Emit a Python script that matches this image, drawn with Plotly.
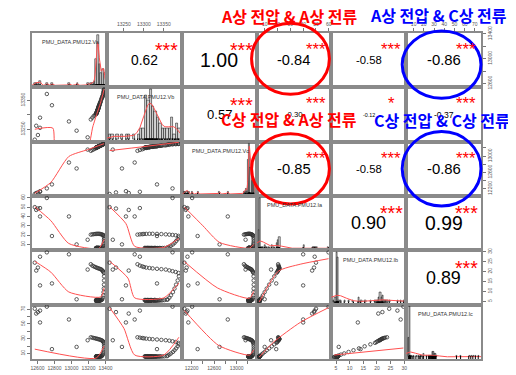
import numpy as np
import plotly.graph_objects as go
from plotly.subplots import make_subplots

var_labels = ["PMU_DATA.PMU12.Va", "PMU_DATA.PMU12.Vb", "PMU_DATA.PMU12.Vc",
              "PMU_DATA.PMU12.Ia", "PMU_DATA.PMU12.Ib", "PMU_DATA.PMU12.Ic"]

# ---- observations (sparse fault points, arc, recovery, steady cluster) ----
Va = [12568, 12585, 12605, 12630, 12710, 12630, 12770, 12970, 13060, 13190,
      13227, 13245, 13262, 13278, 13292, 13305, 13318, 13330, 13342, 13353, 13362, 13370, 13376, 13381,
      13383, 13383, 13382, 13380, 13377, 13373, 13368, 13362,
      13356, 13349, 13343, 13338, 13334, 13331, 13328, 13326, 13324, 13322, 13321, 13319, 13318, 13317,
      13315, 13314, 13313, 13312, 13311, 13310, 13309, 13308, 13307, 13306, 13305, 13304, 13303, 13302,
      13301, 13300, 13299, 13298, 13297, 13296, 13295, 13294, 13293, 13292, 13290, 13288]
Vb = [13214, 13262, 13230, 13290, 13372, 13255, 13333, 13277, 13245, 13222,
      13284, 13290, 13296, 13300, 13306, 13314, 13322, 13333, 13344, 13355, 13364, 13372, 13380, 13387,
      13388, 13385, 13381, 13377, 13373, 13368, 13364, 13360,
      13358, 13352, 13347, 13343, 13340, 13338, 13335, 13333, 13331, 13330, 13329, 13327, 13326, 13325,
      13323, 13322, 13322, 13320, 13319, 13318, 13318, 13317, 13316, 13315, 13314, 13314, 13313, 13312,
      13311, 13310, 13310, 13309, 13308, 13307, 13306, 13306, 13305, 13304, 13303, 13302]
Vc = [12071, 12095, 12110, 12125, 12208, 12140, 12306, 12843, 12697, 13160,
      13130, 13150, 13168, 13185, 13200, 13214, 13228, 13242, 13255, 13266, 13276, 13285, 13292, 13298,
      13302, 13304, 13305, 13303, 13300, 13296, 13292, 13287,
      13272, 13266, 13261, 13256, 13252, 13250, 13247, 13245, 13243, 13241, 13240, 13238, 13237, 13236,
      13234, 13233, 13232, 13231, 13230, 13229, 13228, 13227, 13226, 13225, 13224, 13223, 13222, 13221,
      13220, 13219, 13218, 13217, 13216, 13215, 13214, 13213, 13212, 13211, 13209, 13207]
Ia = [50.0, 47.0, 48.5, 49.0, 59.8, 40.0, 19.0, 40.0, 10.0, 15.0,
      20.5, 20.8, 21.0, 21.2, 21.3, 21.4, 21.4, 21.3, 21.1, 20.8, 20.5, 20.2, 19.8, 19.2,
      17.5, 15.5, 13.5, 11.6, 10.0, 8.6, 7.5, 6.8,
      6.4, 6.2, 6.1, 6.0, 6.2, 5.9, 6.1, 6.0, 5.9, 6.1, 6.0, 6.2, 5.9, 6.0,
      6.1, 5.8, 6.0, 6.1, 5.9, 6.0, 6.2, 5.9, 6.0, 6.1, 5.8, 6.0, 5.9, 6.1,
      6.0, 6.2, 5.9, 6.0, 6.1, 5.8, 6.0, 6.1, 5.9, 6.0, 6.2, 6.1]
Ib = [24.5, 20.5, 22.0, 27.5, 29.7, 13.0, 14.0, 28.7, 6.0, 21.0,
      23.7, 23.0, 22.6, 22.3, 22.0, 21.8, 21.6, 21.4, 21.2, 21.0, 20.6, 20.2, 19.8, 19.3,
      17.6, 15.5, 13.4, 11.4, 9.6, 8.0, 6.8, 5.9,
      5.8, 5.6, 5.5, 5.4, 5.7, 5.3, 5.5, 5.4, 5.2, 5.6, 5.4, 5.7, 5.3, 5.4,
      5.6, 4.8, 5.4, 5.5, 5.3, 5.4, 5.7, 5.3, 5.4, 5.6, 4.6, 5.4, 5.2, 5.5,
      5.4, 5.7, 5.3, 5.4, 5.5, 4.3, 5.4, 5.6, 5.2, 5.4, 5.7, 5.5]
Ic = [70.5, 64.0, 66.0, 68.0, 73.3, 52.0, 16.0, 56.0, 19.0, 28.0,
      32.0, 31.5, 31.0, 30.6, 30.2, 29.8, 29.4, 29.0, 28.5, 28.0, 27.4, 26.6, 25.6, 24.5,
      22.5, 19.8, 17.0, 14.5, 12.2, 10.2, 8.6, 7.4,
      6.5, 6.3, 6.1, 6.0, 6.4, 5.8, 6.2, 6.0, 5.9, 6.1, 6.0, 6.3, 5.8, 6.0,
      6.2, 5.6, 6.0, 6.1, 5.9, 6.0, 6.3, 5.8, 6.0, 6.1, 5.5, 6.0, 5.8, 6.2,
      6.0, 6.4, 5.8, 6.0, 6.2, 5.4, 6.0, 6.1, 5.8, 6.0, 6.3, 6.1]
data = [Va, Vb, Vc, Ia, Ib, Ic]

# ---- correlations shown in the upper panels ----
cor_row = [0, 0, 0, 0, 0, 1, 1, 1, 1, 2, 2, 2, 3, 3, 4]
cor_col = [1, 2, 3, 4, 5, 2, 3, 4, 5, 3, 4, 5, 4, 5, 5]
cor_txt = ["0.62", "1.00", "-0.84", "-0.58", "-0.86", "0.57", "-0.30", "-0.12", "-0.37",
           "-0.85", "-0.58", "-0.86", "0.90", "0.99", "0.89"]
cor_sig = ["***", "***", "***", "***", "***", "***", "***", "*", "***",
           "***", "***", "***", "***", "***", "***"]

# ---- smoother lines ----
sm_Vb_Va_x = [12568, 12780, 12815, 13180, 13250, 13300, 13340, 13383]
sm_Vb_Va_y = [13250, 13254, 13180, 13180, 13258, 13305, 13340, 13388]
sm_Vc_Va_x = [12568, 12757, 12968, 13192, 13383]
sm_Vc_Va_y = [12090, 12355, 12990, 13160, 13305]
sm_Ia_Va_x = [12568, 12757, 12968, 13321, 13383]
sm_Ia_Va_y = [50.4, 35.5, 11.0, 5.7, 15.3]
sm_Ib_Va_x = [12568, 12757, 12968, 13345, 13383]
sm_Ib_Va_y = [25.2, 19.7, 9.7, 7.2, 11.7]
sm_Ic_Va_x = [12568, 13290, 13383]
sm_Ic_Va_y = [16.0, 4.0, 20.0]
sm_Vc_Vb_x = [13214, 13300, 13388]
sm_Vc_Vb_y = [13135, 13233, 13340]
sm_Ia_Vb_x = [13214, 13255, 13277, 13350, 13388]
sm_Ia_Vb_y = [50.4, 32.3, 7.9, 6.8, 16.4]
sm_Ib_Vb_x = [13214, 13260, 13277, 13350, 13388]
sm_Ib_Vb_y = [25.2, 16.7, 6.7, 6.7, 14.2]
sm_Ic_Vb_x = [13214, 13250, 13277, 13350, 13388]
sm_Ic_Vb_y = [72.0, 44.0, 8.0, 8.0, 32.0]
sm_Ia_Vc_x = [12071, 12400, 12700, 13230, 13305]
sm_Ia_Vc_y = [50.0, 30.0, 12.0, 6.0, 10.0]
sm_Ib_Vc_x = [12071, 12661, 13230, 13305]
sm_Ib_Vc_y = [25.0, 11.7, 6.5, 10.0]
sm_Ic_Vc_x = [12071, 12680, 13230, 13305]
sm_Ic_Vc_y = [68.0, 21.0, 8.0, 15.0]
sm_Ib_Ia_x = [5.8, 20.7, 37.7, 59.8]
sm_Ib_Ia_y = [4.7, 20.2, 23.7, 26.5]
sm_Ic_Ia_x = [5.8, 16.8, 37.7, 59.8]
sm_Ic_Ia_y = [5.3, 25.3, 52.0, 72.0]
sm_Ic_Ib_x = [4.3, 29.7]
sm_Ic_Ib_y = [8.0, 17.5]
smooth = {
    (1, 0): (sm_Vb_Va_x, sm_Vb_Va_y), (2, 0): (sm_Vc_Va_x, sm_Vc_Va_y),
    (3, 0): (sm_Ia_Va_x, sm_Ia_Va_y), (4, 0): (sm_Ib_Va_x, sm_Ib_Va_y),
    (5, 0): (sm_Ic_Va_x, sm_Ic_Va_y), (2, 1): (sm_Vc_Vb_x, sm_Vc_Vb_y),
    (3, 1): (sm_Ia_Vb_x, sm_Ia_Vb_y), (4, 1): (sm_Ib_Vb_x, sm_Ib_Vb_y),
    (5, 1): (sm_Ic_Vb_x, sm_Ic_Vb_y), (3, 2): (sm_Ia_Vc_x, sm_Ia_Vc_y),
    (4, 2): (sm_Ib_Vc_x, sm_Ib_Vc_y), (5, 2): (sm_Ic_Vc_x, sm_Ic_Vc_y),
    (4, 3): (sm_Ib_Ia_x, sm_Ib_Ia_y), (5, 3): (sm_Ic_Ia_x, sm_Ic_Ia_y),
    (5, 4): (sm_Ic_Ib_x, sm_Ic_Ib_y),
}

hist_bin = [20, 6, 20, 1, 0.5, 1]

# ---- tick values / labels ----
va_ticks = [12600, 12800, 13000, 13200, 13400]
va_lab_bottom = ["12600", "12800", "13000", "13200", "13400"]
va_lab_right = ["12600", "", "13000", "", "13400"]
vb_ticks = [13250, 13300, 13350]
vb_lab_top = ["13250", "13300", "13350"]
vb_lab_left = ["13250", "", "13350"]
vc_ticks = [12200, 12400, 12600, 12800, 13000, 13200]
vc_lab = ["12200", "", "12600", "", "13000", ""]
ia_ticks = [10, 20, 30, 40, 50, 60]
ia_lab = ["10", "20", "30", "40", "50", "60"]
ib_ticks = [5, 10, 15, 20, 25, 30]
ib_lab = ["5", "10", "15", "20", "25", "30"]
ic_ticks = [10, 20, 30, 40, 50, 60, 70]
ic_lab_top = ["10", "20", "30", "40", "50", "60", "70"]
ic_lab_left = ["10", "", "30", "", "50", "", "70"]

top_ticks = {1: (vb_ticks, vb_lab_top), 3: (ia_ticks, ia_lab), 5: (ic_ticks, ic_lab_top)}
bottom_ticks = {0: (va_ticks, va_lab_bottom), 2: (vc_ticks, vc_lab), 4: (ib_ticks, ib_lab)}
left_ticks = {1: (vb_ticks, vb_lab_left), 3: (ia_ticks, ia_lab), 5: (ic_ticks, ic_lab_left)}
right_ticks = {0: (va_ticks, va_lab_right), 2: (vc_ticks, vc_lab), 4: (ib_ticks, ib_lab)}

# ---- helpers ----
def rng(v):
    a, b = min(v), max(v)
    d = b - a
    return [a - 0.04 * d, b + 0.04 * d]

def kde(v):
    x = np.asarray(v, float)
    n = len(x)
    sd = x.std(ddof=1)
    iqr = np.percentile(x, 75) - np.percentile(x, 25)
    bw = 0.9 * min(sd, iqr / 1.34) * n ** -0.2
    g = np.linspace(x.min() - 3 * bw, x.max() + 3 * bw, 512)
    d = np.exp(-0.5 * ((g[:, None] - x[None, :]) / bw) ** 2).sum(1) / (n * bw * np.sqrt(2 * np.pi))
    return g, d

def em_width(s):
    return sum(0.556 if ch.isdigit() else 0.278 if ch == "." else 0.333 for ch in s)

ranges = [rng(v) for v in data]

fig = make_subplots(rows=6, cols=6, horizontal_spacing=0, vertical_spacing=0)

tickfont = dict(family="Liberation Sans, Arial", size=5, color="#555")
FRAME = "#8a8a8a"
fig.update_xaxes(showgrid=False, zeroline=False, showline=True, mirror=True,
                 linecolor=FRAME, linewidth=1.5, ticks="", showticklabels=False)
fig.update_yaxes(showgrid=False, zeroline=False, showline=True, mirror=True,
                 linecolor=FRAME, linewidth=1.5, ticks="", showticklabels=False)

PT_COLOR = "#333333"
SMOOTH_COLOR = "#ff5050"

for i in range(6):
    for j in range(6):
        r, c = i + 1, j + 1
        fig.update_xaxes(range=ranges[j], row=r, col=c)
        if i == j:
            x = np.asarray(data[i], float)
            size = hist_bin[i]
            start = np.floor(x.min() / size) * size
            edges = np.arange(start, x.max() + size * 1.001, size)
            dens, _ = np.histogram(x, bins=edges, density=True)
            m = dens.max()
            fig.add_trace(go.Histogram(
                x=data[i], xbins=dict(start=float(edges[0]), end=float(edges[-1]), size=size),
                histnorm="probability density", autobinx=False,
                marker=dict(color="#d3d3d3", line=dict(color="black", width=0.5))),
                row=r, col=c)
            gx, gy = kde(data[i])
            fig.add_trace(go.Scatter(x=gx, y=gy, mode="lines",
                                     line=dict(color=SMOOTH_COLOR, width=1)), row=r, col=c)
            fig.add_trace(go.Scatter(x=data[i], y=[-0.02 * m] * len(data[i]), mode="markers",
                                     marker=dict(symbol="line-ns-open", size=3, color="black",
                                                 line=dict(color="black", width=1))),
                          row=r, col=c)
            fig.update_yaxes(range=[-0.04 * m, 1.04 * m], row=r, col=c)
        elif i > j:
            fig.update_yaxes(range=ranges[i], row=r, col=c)
            fig.add_trace(go.Scatter(x=data[j], y=data[i], mode="markers",
                                     marker=dict(symbol="circle-open", size=3.5, color=PT_COLOR,
                                                 line=dict(color=PT_COLOR, width=0.8))),
                          row=r, col=c)
            sx, sy = smooth[(i, j)]
            fig.add_trace(go.Scatter(x=sx, y=sy, mode="lines",
                                     line=dict(color=SMOOTH_COLOR, width=1, shape="spline",
                                               smoothing=0.6)), row=r, col=c)
        else:
            fig.update_yaxes(range=ranges[i], row=r, col=c)
            # empty placeholder trace so the upper panel is drawn
            fig.add_trace(go.Scatter(x=[None], y=[None], mode="markers", hoverinfo="skip"),
                          row=r, col=c)

# outer axes
for j, (tv, tt) in top_ticks.items():
    fig.update_xaxes(row=1, col=j + 1, side="top", ticks="outside", ticklen=3, tickwidth=1,
                     tickcolor="#777", tickvals=tv, ticktext=tt, showticklabels=True,
                     tickfont=tickfont)
for j, (tv, tt) in bottom_ticks.items():
    fig.update_xaxes(row=6, col=j + 1, side="bottom", ticks="outside", ticklen=3, tickwidth=1,
                     tickcolor="#777", tickvals=tv, ticktext=tt, showticklabels=True,
                     tickfont=tickfont)
for i, (tv, tt) in left_ticks.items():
    fig.update_yaxes(row=i + 1, col=1, side="left", ticks="outside", ticklen=3, tickwidth=1,
                     tickcolor="#777", tickvals=tv, ticktext=tt, showticklabels=True,
                     tickfont=tickfont, tickangle=-90)
for i, (tv, tt) in right_ticks.items():
    fig.update_yaxes(row=i + 1, col=6, side="right", ticks="outside", ticklen=3, tickwidth=1,
                     tickcolor="#777", tickvals=tv, ticktext=tt, showticklabels=True,
                     tickfont=tickfont, tickangle=-90)

def ref(i, j):
    k = i * 6 + j + 1
    s = "" if k == 1 else str(k)
    return "x" + s + " domain", "y" + s + " domain"

annotations = []
for i in range(6):
    xr, yr = ref(i, i)
    annotations.append(dict(text=var_labels[i], xref=xr, yref=yr, x=0.52, y=0.83,
                            xanchor="center", yanchor="middle", showarrow=False,
                            font=dict(family="Liberation Sans, Arial", size=5.5, color="#333")))
K = 38.0
for i, j, t, s in zip(cor_row, cor_col, cor_txt, cor_sig):
    xr, yr = ref(i, j)
    w = em_width(t)
    rv = abs(float(t))
    num_size = K * (rv + 0.3) / 1.3 / w
    star_size = K / w
    annotations.append(dict(text=t, xref=xr, yref=yr, x=0.5, y=0.5, showarrow=False,
                            xanchor="center", yanchor="middle",
                            font=dict(family="Liberation Sans, Arial", size=num_size, color="black")))
    annotations.append(dict(text=s, xref=xr, yref=yr, x=0.8, y=0.78, showarrow=False,
                            xanchor="center", yanchor="middle",
                            yshift=-0.28 * star_size,
                            font=dict(family="Liberation Sans, Arial", size=star_size, color="#ff0000")))

# Korean callouts
kfont = "Noto Sans CJK KR"
callouts = [
    ("<b>A상 전압 &amp; A상 전류</b>", 0.5719, 1.0334, "#ff0000"),
    ("<b>A상 전압 &amp; C상 전류</b>", 0.9060, 1.0380, "#0000ff"),
    ("<b>C상 전압 &amp; A상 전류</b>", 0.5719, 0.7188, "#ff0000"),
    ("<b>C상 전압 &amp; C상 전류</b>", 0.9126, 0.7143, "#0000ff"),
]
for t, x, y, col in callouts:
    annotations.append(dict(text=t, xref="paper", yref="paper", x=x, y=y, showarrow=False,
                            xanchor="center", yanchor="middle", yshift=6,
                            font=dict(family=kfont, size=16, color=col)))

shapes = []
ellipses = [
    (0, 3, -0.066, 0.974, -0.127, 1.18, "#ff0000"),
    (0, 5, -0.053, 1.0, -0.2, 1.036, "#0000ff"),
    (2, 3, -0.066, 0.974, -0.148, 1.148, "#ff0000"),
    (2, 5, -0.053, 1.0, -0.185, 1.185, "#0000ff"),
]
for i, j, x0, x1, y0, y1, col in ellipses:
    xr, yr = ref(i, j)
    shapes.append(dict(type="circle", xref=xr, yref=yr, x0=x0, x1=x1, y0=y0, y1=y1,
                       line=dict(color=col, width=3)))

fig.update_layout(width=516, height=375, margin=dict(l=21, r=43, t=25, b=21),
                  paper_bgcolor="white", plot_bgcolor="white", showlegend=False,
                  bargap=0, annotations=annotations, shapes=shapes)

fig.write_html("out.html")
